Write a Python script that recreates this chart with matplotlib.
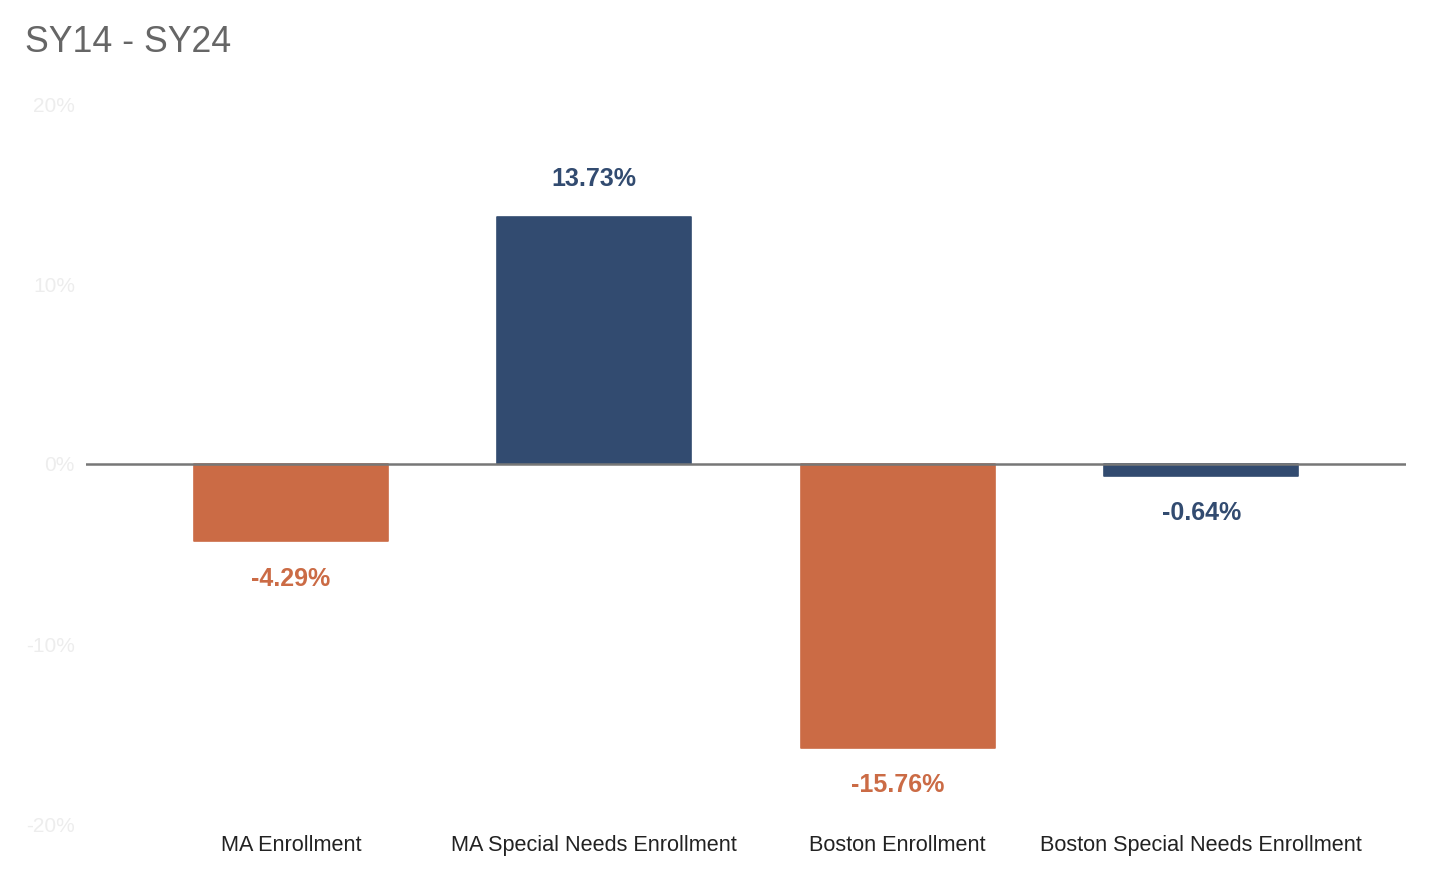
import matplotlib
matplotlib.use("Agg")
import matplotlib.pyplot as plt

categories = ["MA Enrollment", "MA Special Needs Enrollment", "Boston Enrollment", "Boston Special Needs Enrollment"]
values = [-4.29, 13.73, -15.76, -0.64]
labels = ["-4.29%", "13.73%", "-15.76%", "-0.64%"]
yticks = [-20, -10, 0, 10, 20]
ytick_labels = ["-20%", "-10%", "0%", "10%", "20%"]
title = "SY14 - SY24"

orange = "#CB6B45"
navy = "#324B70"
colors = [orange, navy, orange, navy]

plt.rcParams['font.family'] = ['Liberation Sans', 'DejaVu Sans']
fig = plt.figure(figsize=(14.42, 8.76), dpi=100)
ax = fig.add_axes([86/1442, 1-824/876, (1406-86)/1442, (824-104)/876])

x = list(range(len(categories)))
bars = ax.bar(x, values, width=0.64, color=colors, edgecolor=colors, linewidth=1.2, joinstyle='round', zorder=2)
ax.axhline(0, color="#777777", linewidth=1.8, zorder=3)

ax.set_xlim(-0.675, 3.675)
ax.set_ylim(-20, 20)
ax.set_yticks(yticks)
ax.set_yticklabels(ytick_labels, color="#ededed", fontsize=15)
ax.tick_params(axis='y', length=0, pad=8)
ax.set_xticks(x)
ax.set_xticklabels(categories, fontsize=15.6, color="#222222")
ax.tick_params(axis='x', length=0, pad=8)
for s in ax.spines.values():
    s.set_visible(False)

for xi, v, lab, c in zip(x, values, labels, colors):
    off = 2.1 if v >= 0 else -2.1
    ax.text(xi, v + off, lab, ha='center', va='center', fontsize=18, fontweight='bold', color=c)

fig.text(25/1442, 1-43/876, title, fontsize=25.7, color="#666666", ha='left', va='center')

fig.savefig("out.png", dpi=100)
